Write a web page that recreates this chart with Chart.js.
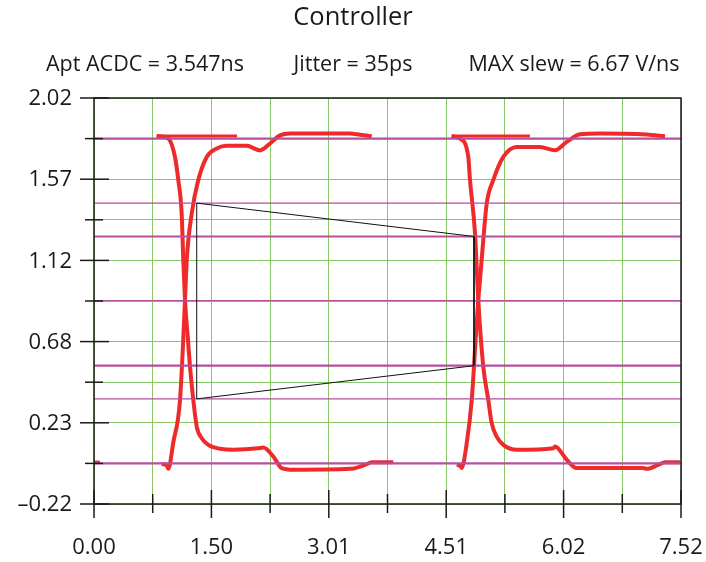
<!DOCTYPE html>
<html lang="en">
<head>
  <meta charset="UTF-8" />
  <title>Controller</title>
  <script src="https://cdn.jsdelivr.net/npm/chart.js"></script>
  <style>
    html, body { margin: 0; padding: 0; background: #fff; }
    #eye { display: block; }
  </style>
</head>
<body>
  <canvas id="eye" width="706" height="562"></canvas>
  <script>
    // Axis ticks (every other one labelled)
    const xTicks = [0, 0.752, 1.504, 2.256, 3.008, 3.76, 4.512, 5.264, 6.016, 6.768, 7.52];
    const xTickLabels = ['0.00', '', '1.50', '', '3.01', '', '4.51', '', '6.02', '', '7.52'];
    const yTicks = [-0.22, 0.004, 0.228, 0.452, 0.676, 0.9, 1.124, 1.348, 1.572, 1.796, 2.02];
    const yTickLabels = ['–0.22', '', '0.23', '', '0.68', '', '1.12', '', '1.57', '', '2.02'];

    const titleText = 'Controller';
    const statTexts = ['Apt ACDC = 3.547ns', 'Jitter = 35ps', 'MAX slew = 6.67 V/ns'];

    // Measurement levels (magenta)
    const levelsThick = [1.796, 1.256, 0.543, 0.004];
    const levelsThin = [1.44, 0.902, 0.36];

    // Eye mask outline
    const maskX = [1.316, 4.868, 4.868, 1.316, 1.316];
    const maskY = [1.44, 1.256, 0.543, 0.36, 1.44];

    // Waveform traces
    const lowStartX = [0, 0.077];
    const lowStartY = [0.011, 0.011];

    const rise1X = [0.867, 0.93, 0.952, 1.016, 1.102, 1.166, 1.188, 1.252, 1.336, 1.444, 1.572, 1.700, 1.956, 2.127, 2.255, 2.383, 2.511, 3.280, 3.408, 3.558];
    const rise1Y = [0.0, -0.005, -0.026, 0.12, 0.355, 0.905, 1.124, 1.383, 1.567, 1.695, 1.741, 1.756, 1.756, 1.731, 1.769, 1.814, 1.824, 1.824, 1.817, 1.809];

    const fall1X = [0.803, 0.948, 1.038, 1.080, 1.123, 1.144, 1.166, 1.204, 1.230, 1.272, 1.316, 1.380, 1.464, 1.614, 1.785, 2.101, 2.169, 2.297, 2.405, 2.553, 3.280, 3.472, 3.558, 3.834];
    const fall1Y = [1.81, 1.798, 1.693, 1.567, 1.383, 1.126, 0.905, 0.685, 0.538, 0.355, 0.207, 0.143, 0.106, 0.085, 0.079, 0.087, 0.092, 0.042, -0.022, -0.031, -0.026, -0.004, 0.011, 0.011];

    const hold1X = [0.803, 1.832];
    const hold1Y = [1.81, 1.81];

    const rise2X = [4.646, 4.690, 4.710, 4.775, 4.839, 4.894, 4.923, 4.945, 4.987, 5.031, 5.115, 5.244, 5.416, 5.714, 5.906, 6.056, 6.226, 6.483, 7.080, 7.315];
    const rise2Y = [-0.004, -0.008, -0.022, 0.116, 0.354, 0.722, 0.905, 1.016, 1.236, 1.438, 1.567, 1.695, 1.750, 1.750, 1.732, 1.778, 1.820, 1.824, 1.818, 1.809];

    const fall2X = [4.582, 4.689, 4.795, 4.817, 4.881, 4.923, 4.987, 5.051, 5.095, 5.159, 5.244, 5.416, 5.884, 5.906, 6.056, 6.184, 7.037, 7.080, 7.229, 7.315, 7.506];
    const fall2Y = [1.81, 1.796, 1.695, 1.567, 1.275, 0.905, 0.538, 0.355, 0.226, 0.152, 0.106, 0.079, 0.088, 0.097, 0.024, -0.022, -0.022, -0.026, -0.004, 0.011, 0.011];

    const hold2X = [4.582, 5.585];
    const hold2Y = [1.81, 1.81];

    const FONT = "'Open Sans', 'Noto Sans', sans-serif";
    const RED = '#ee2a2a';
    const MAGENTA = '#b54f9e';
    const GREEN = '#86c868';

    const pts = (xs, ys) => xs.map((x, i) => ({ x: x, y: ys[i] }));
    const xMin = xTicks[0], xMax = xTicks[xTicks.length - 1];

    function trace(xs, ys, w) {
      return { data: pts(xs, ys), borderColor: RED, borderWidth: w, order: 2, cubicInterpolationMode: 'monotone' };
    }
    function level(v, w) {
      return { data: [{ x: xMin, y: v }, { x: xMax, y: v }], borderColor: MAGENTA, borderWidth: w, order: 1 };
    }

    const datasets = [
      trace(lowStartX, lowStartY, 3),
      trace(hold1X, hold1Y, 3),
      trace(rise1X, rise1Y, 4),
      trace(fall1X, fall1Y, 4),
      trace(hold2X, hold2Y, 3),
      trace(rise2X, rise2Y, 4),
      trace(fall2X, fall2Y, 4),
      ...levelsThick.map(v => level(v, 2.2)),
      ...levelsThin.map(v => level(v, 1.3)),
      { data: pts(maskX, maskY), borderColor: '#111', borderWidth: 1, order: 0 }
    ].map(d => Object.assign({ showLine: true, pointRadius: 0, fill: false, tension: 0 }, d));

    // frame, tick marks, labels and heading texts
    const decor = {
      id: 'decor',
      afterDraw(chart) {
        const { ctx, chartArea: a, scales: { x, y } } = chart;
        ctx.save();
        ctx.strokeStyle = '#1a1a1a';
        ctx.lineWidth = 1.5;
        ctx.strokeRect(a.left, a.top, a.right - a.left, a.bottom - a.top);

        ctx.fillStyle = '#1a1a1a';
        ctx.font = '22px ' + FONT;
        ctx.textAlign = 'right';
        ctx.textBaseline = 'middle';
        yTicks.forEach((v, i) => {
          const py = y.getPixelForValue(v);
          const major = yTickLabels[i] !== '';
          ctx.beginPath();
          ctx.moveTo(a.left - (major ? 14 : 9), py);
          ctx.lineTo(a.left + (major ? 15 : 9), py);
          ctx.stroke();
          if (major) ctx.fillText(yTickLabels[i], a.left - 22, py + 1);
        });

        ctx.textAlign = 'center';
        xTicks.forEach((v, i) => {
          const px = x.getPixelForValue(v);
          const major = xTickLabels[i] !== '';
          ctx.beginPath();
          ctx.moveTo(px, a.bottom - (major ? 14 : 10));
          ctx.lineTo(px, a.bottom + (major ? 14 : 9));
          ctx.stroke();
          if (major) ctx.fillText(xTickLabels[i], px, a.bottom + 44);
        });

        ctx.font = '25.5px ' + FONT;
        ctx.fillText(titleText, chart.width / 2, 18);
        ctx.font = '21.5px ' + FONT;
        const centers = [145, 353, 574];
        statTexts.forEach((t, i) => ctx.fillText(t, centers[i], 65));
        ctx.restore();
      }
    };

    new Chart(document.getElementById('eye'), {
      type: 'scatter',
      data: { datasets: datasets },
      options: {
        responsive: false,
        animation: false,
        devicePixelRatio: 1,
        layout: { padding: { left: 94, right: 25, top: 98, bottom: 58 } },
        plugins: { legend: { display: false }, tooltip: { enabled: false } },
        scales: {
          x: {
            type: 'linear', min: xMin, max: xMax,
            afterBuildTicks: s => { s.ticks = xTicks.map(v => ({ value: v })); },
            ticks: { display: false },
            grid: { color: GREEN, lineWidth: 1, drawTicks: false },
            border: { display: false }
          },
          y: {
            type: 'linear', min: yTicks[0], max: yTicks[yTicks.length - 1],
            afterBuildTicks: s => { s.ticks = yTicks.map(v => ({ value: v })); },
            ticks: { display: false },
            grid: { color: GREEN, lineWidth: 1, drawTicks: false },
            border: { display: false }
          }
        }
      },
      plugins: [decor]
    });
  </script>
</body>
</html>
